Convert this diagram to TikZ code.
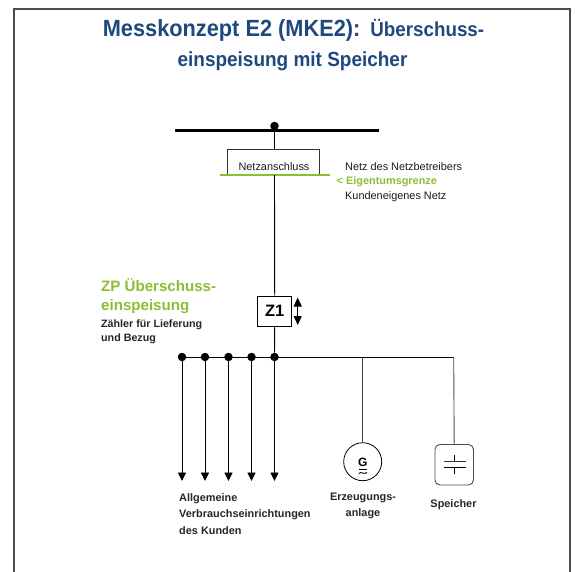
\documentclass[tikz,border=0pt]{standalone}
\usepackage{fontspec}
\setmainfont{Liberation Sans}
\newfontfamily\titlefont[FakeStretch=0.93]{Liberation Sans}
\usetikzlibrary{arrows.meta}
\definecolor{titleblue}{RGB}{31,73,125}
\definecolor{mygreen}{RGB}{140,190,50}
\tikzset{x=1pt,y=-1pt,
  wire/.style={draw=black,line width=0.9pt},
  bullet/.style={circle,fill=black,inner sep=0pt,minimum size=8.5pt},
  plain/.style={inner sep=0pt,font=\fontsize{10.9}{12}\selectfont,text=black!90},
  bold/.style={inner sep=0pt,font=\bfseries\fontsize{10.9}{16}\selectfont,text=black!85},
  arrowwire/.style={wire,-{Triangle[length=8.5pt,width=8pt]}},
  titletext/.style={inner sep=0pt,text=titleblue,anchor=base},
  zptext/.style={inner sep=0pt,anchor=west,text=mygreen,font=\bfseries\fontsize{15.1}{17}\selectfont},
}
\begin{document}
\begin{tikzpicture}
\useasboundingbox (0,0) rectangle (575,571);
\draw[line width=2pt,draw=black!70] (14,572) -- (14,9) -- (570,9) -- (570,572);
\node[titletext,font=\titlefont\bfseries\fontsize{23.4}{24}\selectfont] (t1) at (293.5,36) {Messkonzept E2 (MKE2):\kern3pt\fontsize{20.2}{24}\selectfont{} Überschuss-};
\node[titletext,font=\titlefont\bfseries\fontsize{20.4}{24}\selectfont] (t2) at (292.5,66.7) {einspeisung mit Speicher};
\coordinate (busL) at (175,130);
\coordinate (busR) at (378.5,130);
\draw[line width=3pt] (busL) -- (busR);
\node[bullet] (top) at (274.5,126) {};
\node[draw=black!80,line width=0.8pt,minimum width=91.5pt,minimum height=26pt,inner sep=0pt] (na) at (273.5,162) {};
\node[plain] (nat) at (274,167) {Netzanschluss};
\coordinate (gL) at (219.5,175);
\coordinate (gR) at (330,175);
\coordinate (gM) at (274.5,175);
\coordinate (topB) at (274.5,149);
\draw[wire] (top) -- (topB);
\draw[line width=2pt,draw=mygreen] (gL) -- (gR);
\node[plain,anchor=west] (n1) at (345,167) {Netz des Netzbetreibers};
\node[plain,font=\bfseries\fontsize{10.9}{12}\selectfont,anchor=west,text=mygreen] (n2) at (336.5,181.5) {< Eigentumsgrenze};
\node[plain,anchor=west] (n3) at (345,196.5) {Kundeneigenes Netz};
\node[draw=black,line width=0.9pt,fill=white,minimum width=34pt,minimum height=30.5pt,inner sep=0pt,font=\bfseries\fontsize{16.5}{18}\selectfont] (z1) at (274.7,311.3) {\raisebox{-1pt}{Z1}};
\draw[wire] (gM) -- (z1.north);
\node[bullet] (b5) at (274.5,357) {};
\node[bullet] (b4) at (251.5,357) {};
\node[bullet] (b3) at (228.5,357) {};
\node[bullet] (b2) at (205,357) {};
\node[bullet] (b1) at (182,357) {};
\coordinate (br) at (453.7,357);
\coordinate (bg) at (362.7,357);
\draw[wire] (z1.south) -- (b5);
\draw[wire] (b1) -- (br);
\coordinate (e1) at (182,481);
\coordinate (e2) at (205,481);
\coordinate (e3) at (228.5,481);
\coordinate (e4) at (251.5,481);
\coordinate (e5) at (274.5,481);
\foreach \i in {1,...,5} \draw[arrowwire] (b\i) -- (e\i);
\coordinate (za) at (297.7,297.5);
\coordinate (zb) at (297.7,325);
\draw[line width=1pt,{Triangle[length=9pt,width=8pt]}-{Triangle[length=9pt,width=8pt]}] (za) -- (zb);
\node[zptext] (zp1) at (101,285) {ZP Überschuss-};
\node[zptext] (zp2) at (101,307) {einspeisung};
\node[bold,anchor=west,font=\bfseries\fontsize{10.7}{12}\selectfont] (zl1) at (101,324.5) {Zähler für Lieferung};
\node[bold,anchor=west,font=\bfseries\fontsize{10.7}{12}\selectfont] (zl2) at (101,338.5) {und Bezug};
\node[circle,draw=black,line width=0.8pt,minimum size=38pt,inner sep=0pt] (g) at (362.7,461.7) {};
\node[inner sep=0pt,font=\bfseries\fontsize{12}{12}\selectfont] (gl) at (362.7,462.5) {G};
\coordinate (gu1) at (358.5,469.4);
\coordinate (gu2) at (367,469.4);
\draw[line width=0.8pt] (gu1) -- (gu2);
\coordinate (ti1) at (358.7,473.6);
\coordinate (ti2) at (367,472.4);
\draw[line width=0.9pt] (ti1) .. controls (361,470.8) and (364.5,475.2) .. (ti2);
\draw[wire,draw=black!75] (bg) -- (g.north);
\node[draw=black!70,line width=0.9pt,rounded corners=5pt,minimum width=38.5pt,minimum height=40.5pt,inner sep=0pt] (s) at (454.2,464.7) {};
\draw[wire,draw=black!70] (br) -- (s.north);
\coordinate (s1) at (444,461.7);
\coordinate (s2) at (465.7,461.7);
\coordinate (s3) at (444,467.3);
\coordinate (s4) at (465.7,467.3);
\coordinate (s5) at (454,455);
\coordinate (s6) at (454,461.7);
\coordinate (s7) at (454,467.3);
\coordinate (s8) at (454,473.5);
\draw[line width=0.6pt] (s3) -- (s4) (s5) -- (s6) (s7) -- (s8);
\draw[line width=1pt,draw=black!80] (s1) -- (s2);
\node[bold,anchor=west] (v1) at (179,498.5) {Allgemeine};
\node[bold,anchor=west] (v2) at (179,514.5) {Verbrauchseinrichtungen};
\node[bold,anchor=west] (v3) at (179,530.5) {des Kunden};
\node[bold] (e1t) at (363,497.5) {Erzeugungs-};
\node[bold] (e2t) at (363,513.5) {anlage};
\node[bold] (sp) at (453.5,504.5) {Speicher};
\end{tikzpicture}
\end{document}
